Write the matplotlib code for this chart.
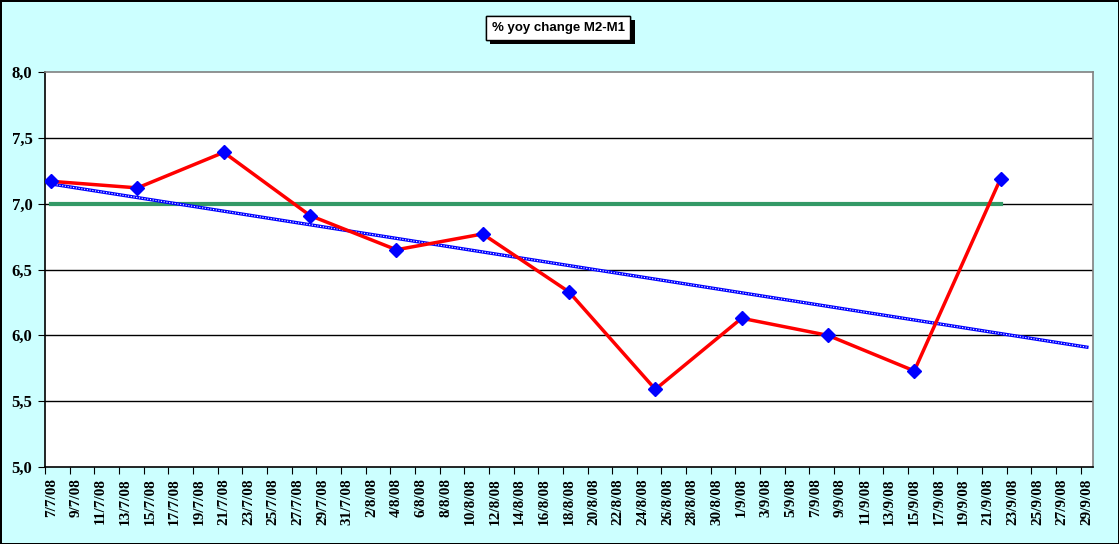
import numpy as np
import pandas as pd
import matplotlib
matplotlib.use("Agg")
import matplotlib.pyplot as plt
import matplotlib.patheffects as pe

# weekly observations
obs_dates = ['2008-07-07', '2008-07-14', '2008-07-21', '2008-07-28', '2008-08-04', '2008-08-11',
             '2008-08-18', '2008-08-25', '2008-09-01', '2008-09-08', '2008-09-15', '2008-09-22']
yoy_change = [7.17, 7.12, 7.39, 6.91, 6.65, 6.77, 6.33, 5.59, 6.13, 6.00, 5.73, 7.19]
ref_level = 7.0

axis_start = '2008-07-07'
axis_end = '2008-09-29'

start = pd.Timestamp(axis_start)
days = np.array([(pd.Timestamp(d) - start).days for d in obs_dates])
n_days = (pd.Timestamp(axis_end) - start).days

fig = plt.figure(figsize=(11.19, 5.44), dpi=100)
fig.patch.set_facecolor('#CCFFFF')
fig.patch.set_edgecolor('black')
fig.patch.set_linewidth(2)

ax = fig.add_axes([0.0402, 0.1415, 0.9366, 0.7261])
ax.set_facecolor('white')

# horizontal grid
for g in [5.5, 6.0, 6.5, 7.0, 7.5]:
    ax.axhline(g, color='black', lw=1, zorder=1)

# reference line at 7%
ax.plot([days[0], days[-1]], [ref_level, ref_level], color='#339966', lw=3, zorder=2)

# linear trend, extended to end of axis
k, b = np.polyfit(days, yoy_change, 1)
tx = np.array([0, n_days])
ax.plot(tx, k * tx + b, color='#0000FF', lw=2.4, zorder=3)
ax.plot(tx, k * tx + b, color='white', lw=0.8, ls=(0, (1, 1.5)), zorder=3)

# data series
ax.plot(days, yoy_change, color='#FF0000', lw=2.5, marker='D', markersize=7,
        markerfacecolor='#0000FF', markeredgecolor='#0000FF', zorder=4)

ax.set_xlim(-0.5, n_days + 0.5)
ax.set_ylim(5.0, 8.0)

ax.set_yticks([5.0, 5.5, 6.0, 6.5, 7.0, 7.5, 8.0])
ax.set_yticklabels([f'{v:.1f}'.replace('.', ',') for v in ax.get_yticks()],
                   fontfamily='Liberation Serif', fontweight='bold', fontsize=12)

tick_days = pd.date_range(axis_start, axis_end, freq='2D')
label_pos = [(d - start).days for d in tick_days]
ax.set_xticks([p - 0.5 for p in label_pos])
ax.set_xticklabels([])
ax.set_xticks(label_pos, minor=True)
ax.set_xticklabels([f'{d.day}/{d.month}/{d.strftime("%y")}' for d in tick_days], minor=True,
                   rotation=90, fontfamily='Liberation Serif', fontweight='bold', fontsize=11)
ax.tick_params(axis='x', which='major', length=5, direction='out', color='black')
ax.tick_params(axis='x', which='minor', length=0, pad=8)
ax.tick_params(axis='y', length=5, direction='out', pad=4)

for s in ['left', 'bottom']:
    ax.spines[s].set_color('black')
    ax.spines[s].set_linewidth(1.2)
for s in ['top', 'right']:
    ax.spines[s].set_color('#808080')
    ax.spines[s].set_linewidth(1.2)

t = fig.text(0.4987, 0.949, '% yoy change M2-M1', ha='center', va='center',
             fontfamily='Liberation Sans', fontweight='bold', fontsize=9.5,
             bbox=dict(boxstyle='square,pad=0.45', facecolor='white', edgecolor='black', lw=1))
t.get_bbox_patch().set_path_effects([pe.withSimplePatchShadow(offset=(3, -3), shadow_rgbFace='black', alpha=1), pe.Normal()])

fig.savefig('out.png', dpi=100, facecolor=fig.get_facecolor(), edgecolor=fig.get_edgecolor())
